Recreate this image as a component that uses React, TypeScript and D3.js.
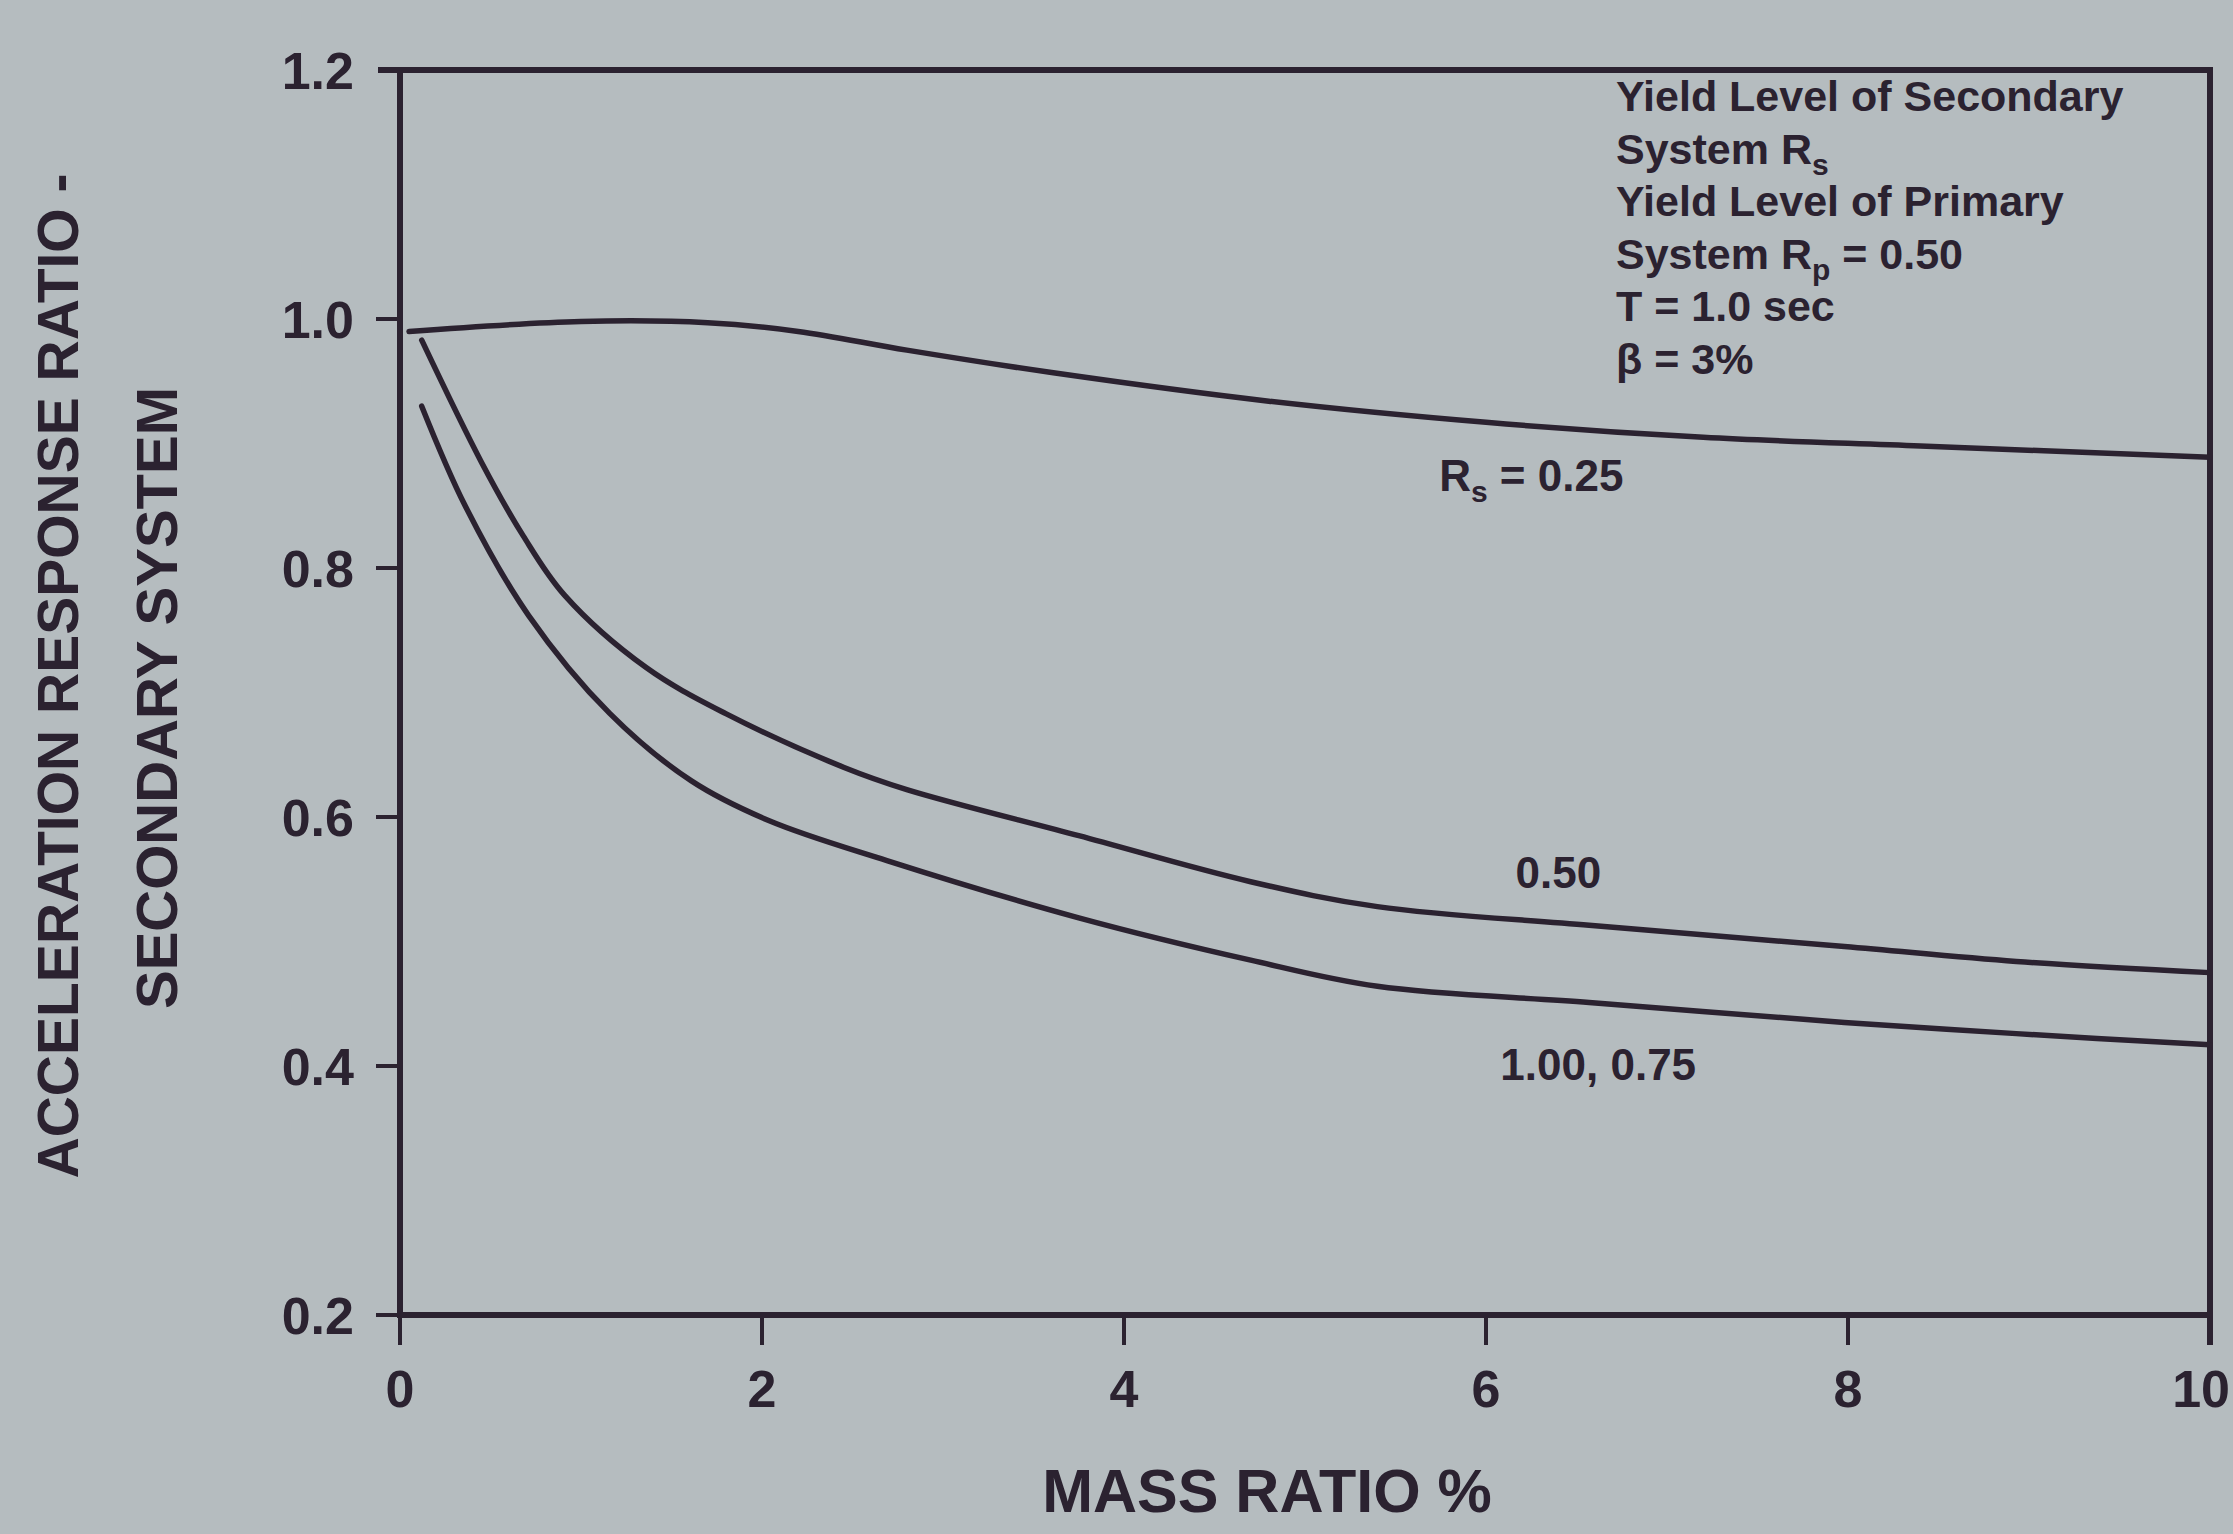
import React from "react";
import * as d3 from "d3";

// ---- data ----
const xTicks = [0, 2, 4, 6, 8, 10];
const yTicks = [0.2, 0.4, 0.6, 0.8, 1.0, 1.2];

const rs025X = [0.05, 1.0, 1.7, 2.2, 2.8, 3.6, 4.8, 6.0, 7.2, 8.4, 10];
const rs025Y = [0.99, 0.998, 0.997, 0.99, 0.975, 0.957, 0.934, 0.917, 0.905, 0.898, 0.889];

const rs050X = [0.12, 0.45, 0.68, 0.91, 1.36, 1.8, 2.45, 2.8, 3.75, 4.7, 5.4, 6.57, 7.98, 8.93, 10];
const rs050Y = [0.983, 0.885, 0.826, 0.778, 0.72, 0.683, 0.64, 0.622, 0.585, 0.548, 0.528, 0.513, 0.496, 0.484, 0.475];

const rs100X = [0.12, 0.36, 0.71, 1.16, 1.61, 2.04, 2.69, 3.75, 4.7, 5.4, 6.57, 7.98, 8.93, 10];
const rs100Y = [0.93, 0.85, 0.762, 0.683, 0.629, 0.597, 0.565, 0.519, 0.485, 0.464, 0.451, 0.435, 0.426, 0.417];

const curveLabels = [
  { x: 6.25, y: 0.862, main: "R", sub: "s", rest: " = 0.25" },
  { x: 6.4, y: 0.543, main: "", sub: "", rest: "0.50" },
  { x: 6.62, y: 0.389, main: "", sub: "", rest: "1.00, 0.75" },
];

const W = 2233;
const H = 1534;
const M = { left: 400, right: 2210, top: 70, bottom: 1315 };
const INK = "#2b2230";
const BG = "#b5bcbf";
const FONT = "'Liberation Sans', Arial, Helvetica, sans-serif";

export default function App() {
  const x = d3.scaleLinear().domain([0, 10]).range([M.left, M.right]);
  const y = d3.scaleLinear().domain([0.2, 1.2]).range([M.bottom, M.top]);
  const line = d3
    .line<[number, number]>()
    .x((d) => x(d[0]))
    .y((d) => y(d[1]))
    .curve(d3.curveCatmullRom.alpha(0.5));

  const series = [
    d3.zip(rs025X, rs025Y) as [number, number][],
    d3.zip(rs050X, rs050Y) as [number, number][],
    d3.zip(rs100X, rs100Y) as [number, number][],
  ];

  const legendX = 1616;
  const legendY0 = 111;
  const legendDy = 52.5;
  const lf = 43;

  return (
    <svg
      width={W}
      height={H}
      style={{ position: "absolute", left: 0, top: 0, display: "block" }}
      fontFamily={FONT}
      fontWeight="bold"
    >
      <rect x={0} y={0} width={W} height={H} fill={BG} />

      {/* frame */}
      <rect
        x={M.left}
        y={M.top}
        width={M.right - M.left}
        height={M.bottom - M.top}
        fill="none"
        stroke={INK}
        strokeWidth={6}
      />
      <line x1={M.left - 22} x2={M.left} y1={y(1.2)} y2={y(1.2)} stroke={INK} strokeWidth={6} />
      <line x1={M.right} x2={M.right} y1={M.bottom} y2={M.bottom + 30} stroke={INK} strokeWidth={6} />

      {/* y ticks */}
      {yTicks.map((t) => (
        <g key={"y" + t}>
          {t < 1.2 && (
            <line x1={M.left - 24} x2={M.left} y1={y(t)} y2={y(t)} stroke={INK} strokeWidth={4} />
          )}
          <text x={M.left - 46} y={y(t)} dy="0.36em" textAnchor="end" fontSize={52} fill={INK}>
            {t.toFixed(1)}
          </text>
        </g>
      ))}

      {/* x ticks */}
      {xTicks.map((t) => (
        <g key={"x" + t}>
          {t < 10 && (
            <line x1={x(t)} x2={x(t)} y1={M.bottom} y2={M.bottom + 30} stroke={INK} strokeWidth={4} />
          )}
          <text
            x={t === 10 ? W - 3 : x(t)}
            y={M.bottom + 92}
            textAnchor={t === 10 ? "end" : "middle"}
            fontSize={52}
            fill={INK}
          >
            {t}
          </text>
        </g>
      ))}

      {/* curves */}
      {series.map((s, i) => (
        <path key={i} d={line(s) || ""} fill="none" stroke={INK} strokeWidth={5.5} strokeLinecap="round" />
      ))}

      {/* curve labels */}
      {curveLabels.map((l, i) => (
        <text key={i} x={x(l.x)} y={y(l.y)} textAnchor="middle" fontSize={44} fill={INK}>
          {l.main}
          {l.sub && (
            <tspan fontSize={30} dy={11}>
              {l.sub}
            </tspan>
          )}
          <tspan dy={l.sub ? -11 : 0}>{l.rest}</tspan>
        </text>
      ))}

      {/* legend block */}
      <g fill={INK} fontSize={lf}>
        <text x={legendX} y={legendY0}>Yield Level of Secondary</text>
        <text x={legendX} y={legendY0 + legendDy}>
          System R<tspan fontSize={30} dy={11}>s</tspan>
        </text>
        <text x={legendX} y={legendY0 + 2 * legendDy}>Yield Level of Primary</text>
        <text x={legendX} y={legendY0 + 3 * legendDy}>
          System R<tspan fontSize={30} dy={11}>p</tspan>
          <tspan dy={-11}> = 0.50</tspan>
        </text>
        <text x={legendX} y={legendY0 + 4 * legendDy}>T = 1.0 sec</text>
        <text x={legendX} y={legendY0 + 5 * legendDy}>β = 3%</text>
      </g>

      {/* axis titles */}
      <text x={(M.left + M.right) / 2 - 38} y={1512} textAnchor="middle" fontSize={61} fill={INK}>
        MASS RATIO %
      </text>
      <text
        transform={`translate(78, 676) rotate(-90)`}
        textAnchor="middle"
        fontSize={57}
        fill={INK}
      >
        ACCELERATION RESPONSE RATIO -
      </text>
      <text
        transform={`translate(177, 698) rotate(-90)`}
        textAnchor="middle"
        fontSize={58}
        fill={INK}
      >
        SECONDARY SYSTEM
      </text>
    </svg>
  );
}
